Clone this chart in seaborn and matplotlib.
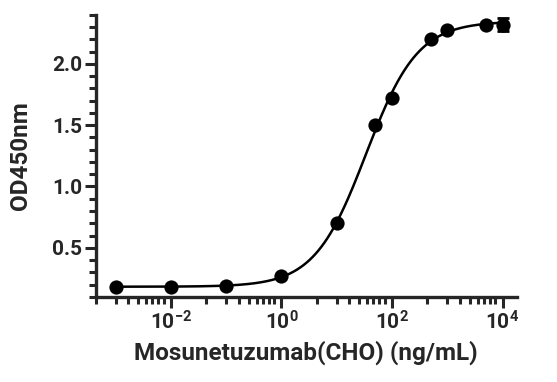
import numpy as np
import pandas as pd
import matplotlib
matplotlib.use("Agg")
import matplotlib.pyplot as plt
import seaborn as sns

# Dados
conc = [0.001, 0.01, 0.1, 1, 10, 50, 100, 500, 1000, 5000, 10000]
od450 = [0.18, 0.18, 0.19, 0.27, 0.70, 1.50, 1.72, 2.20, 2.28, 2.32, 2.32]
od_err = [0, 0, 0, 0, 0, 0, 0, 0, 0, 0, 0.055]

major_ticks = [1e-2, 1e0, 1e2, 1e4]
major_labels = ["$\\mathbf{10^{-2}}$", "$\\mathbf{10^{0}}$", "$\\mathbf{10^{2}}$", "$\\mathbf{10^{4}}$"]
y_ticks = [0.5, 1.0, 1.5, 2.0]

df = pd.DataFrame({"conc": conc, "od": od450, "err": od_err})

# Ajuste 4PL simples (busca em grade + mínimos quadrados)
logx = np.log10(df["conc"].values)
y = df["od"].values
best = None
for lec in np.linspace(0, 3, 301):
    for h in np.linspace(0.5, 2.5, 201):
        f = 1 / (1 + 10 ** ((lec - logx) * h))
        A = np.column_stack([1 - f, f])
        coef, *_ = np.linalg.lstsq(A, y, rcond=None)
        sse = np.sum((A @ coef - y) ** 2)
        if best is None or sse < best[0]:
            best = (sse, lec, h, coef)
_, lec, h, (bottom, top) = best
xs = np.logspace(logx.min(), logx.max(), 400)
fit = pd.DataFrame({"conc": xs,
                    "od": bottom + (top - bottom) / (1 + 10 ** ((lec - np.log10(xs)) * h))})

# Visual
sns.set_theme(style="ticks")
plt.rcParams["font.family"] = ["Roboto", "DejaVu Sans"]
plt.rcParams["font.weight"] = "bold"
plt.rcParams["mathtext.fontset"] = "custom"
plt.rcParams["mathtext.rm"] = "Roboto"
plt.rcParams["mathtext.bf"] = "Roboto:bold"

fig = plt.figure(figsize=(5.57, 3.82), dpi=100)
ax = fig.add_axes([0.172, 0.223, 0.756, 0.738])

sns.lineplot(data=fit, x="conc", y="od", color="black", linewidth=1.8, ax=ax)
ax.errorbar(df["conc"], df["od"], yerr=df["err"], fmt="none", ecolor="black",
            elinewidth=1.8, capsize=4.5, capthick=2)
sns.scatterplot(data=df, x="conc", y="od", color="black", s=105, edgecolor="black",
                linewidth=0, ax=ax, zorder=5)

ax.set_xscale("log")
ax.set_xlim(10 ** -3.21, 10 ** 4.26)
ax.set_ylim(0.1, 2.4)

ax.set_xticks(major_ticks)
ax.set_xticklabels(major_labels)
minor_off = [0.64, 1.0, 1.23, 1.41, 1.55, 1.66, 1.77, 1.87]
minors = [10 ** (d + o) for d in [-4, -2, 0, 2] for o in minor_off]
ax.set_xticks(minors, minor=True)
ax.set_xticklabels([], minor=True)

ax.set_yticks(y_ticks)
ax.set_yticklabels([f"{v:.1f}" for v in y_ticks])
ax.set_yticks(np.arange(0.1, 2.41, 0.1), minor=True)

for s in ["top", "right"]:
    ax.spines[s].set_visible(False)
for s in ["left", "bottom"]:
    ax.spines[s].set_linewidth(2.4)
ax.tick_params(which="major", length=8, width=2.2, labelsize=15, pad=2)
ax.tick_params(which="minor", length=5, width=2.2)

ax.set_xlabel("Mosunetuzumab(CHO) (ng/mL)", fontsize=17.5, fontweight="bold", labelpad=5)
ax.set_ylabel("OD450nm", fontsize=17.5, fontweight="bold", labelpad=14)

plt.savefig("out.png", dpi=100)
